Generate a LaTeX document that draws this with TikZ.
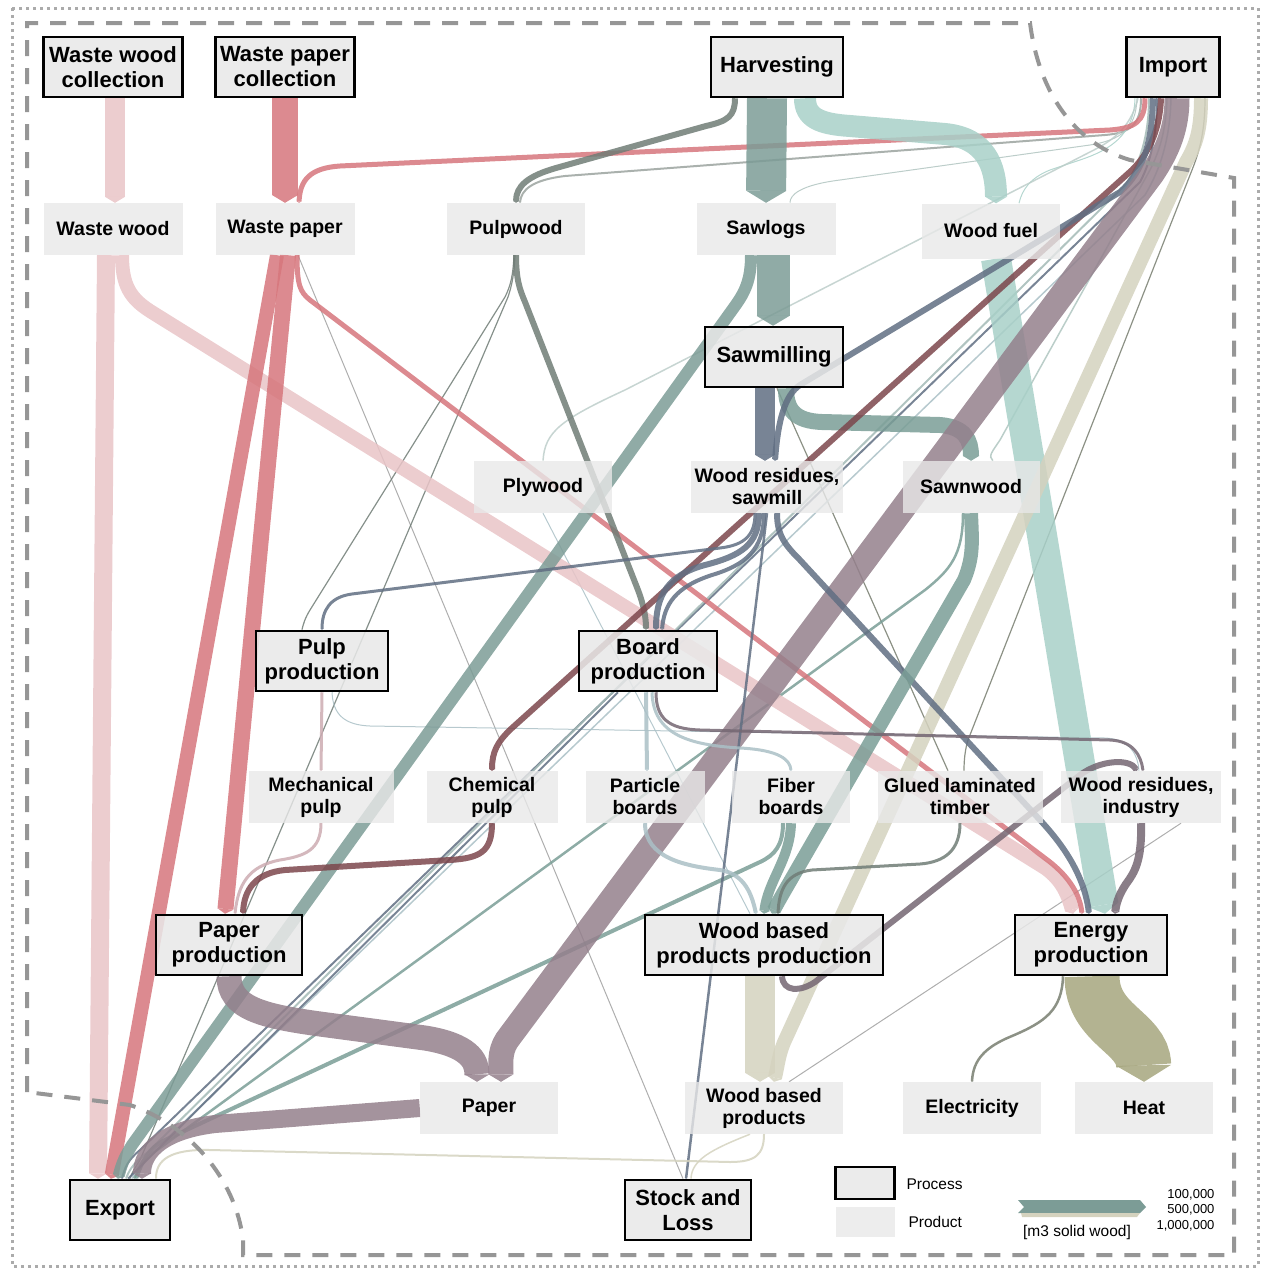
\documentclass[tikz,border=0pt]{standalone}
\usepackage{fontspec}
\setmainfont{Liberation Sans}
\usepackage{tikz}
\usetikzlibrary{backgrounds}
\usetikzlibrary{arrows.meta}
\definecolor[named]{WasteWood}{RGB}{233,196,199}
\definecolor[named]{WastePaper}{RGB}{214,118,124}
\definecolor[named]{Roundwood}{RGB}{112,124,118}
\definecolor[named]{Sawlog}{RGB}{124,156,150}
\definecolor[named]{WoodFuel}{RGB}{168,208,200}
\definecolor[named]{Residue}{RGB}{96,110,130}
\definecolor[named]{SawnTeal}{RGB}{122,158,150}
\definecolor[named]{PaperMauve}{RGB}{148,128,140}
\definecolor[named]{ChemPulp}{RGB}{124,70,76}
\definecolor[named]{MechPulp}{RGB}{204,172,178}
\definecolor[named]{Panel}{RGB}{170,192,198}
\definecolor[named]{IndResidue}{RGB}{116,102,114}
\definecolor[named]{WBProduct}{RGB}{212,210,190}
\definecolor[named]{HeatOlive}{RGB}{166,166,126}
\definecolor[named]{Power}{RGB}{120,126,112}
\definecolor[named]{ThinGray}{RGB}{160,160,160}
\definecolor[named]{BoxGray}{RGB}{232,232,232}
\definecolor[named]{FrameGray}{RGB}{150,150,150}
\newcommand{\procfont}{\fontsize{22}{25}\selectfont\bfseries}
\newcommand{\prodfont}{\fontsize{19.5}{22}\selectfont\bfseries}
\newcommand{\keyfont}{\fontsize{15.5}{18}\selectfont}
\newcommand{\numfont}{\fontsize{13}{15.5}\selectfont}
\tikzset{
  process/.style={draw=black, line width=2.5pt, fill=BoxGray, fill opacity=0.85,
    text opacity=1, minimum width=#1, minimum height=60pt, inner sep=0pt,
    align=center, font=\procfont},
  process/.default=138pt,
  product/.style={fill=BoxGray, fill opacity=0.8, text opacity=1,
    minimum width=#1, minimum height=52pt, inner sep=0pt,
    align=center, font=\prodfont},
  product/.default=138pt,
  flow/.style={line width=#1, opacity=0.85, line cap=butt,
    -{Triangle[width=0pt 1, length=0pt 0.3, line width=0pt]}},
  flow/.default=2pt,
}

\begin{document}
\begin{tikzpicture}[x=1pt,y=-1pt]
  \useasboundingbox (0,0) rectangle (1261,1269);
  % processes
  \node[process=139pt] (wwcoll) at (113,67) {Waste wood\\collection};
  \node[process=139pt] (wpcoll) at (285,67) {Waste paper\\collection};
  \node[process=132pt] (harvest) at (777,67) {Harvesting};
  \node[process=93pt] (import) at (1173,67) {Import};
  \node[process=138pt] (sawmill) at (774,357) {Sawmilling};
  \node[process=132pt] (pulpprod) at (322,661) {Pulp\\production};
  \node[process=138pt] (boardprod) at (648,661) {Board\\production};
  \node[process=146pt] (paperprod) at (229,945) {Paper\\production};
  \node[process=238pt] (wbpprod) at (764,945) {Wood based\\products production};
  \node[process=152pt] (energy) at (1091,945) {Energy\\production};
  \node[process=100pt] (export) at (120,1210) {Export};
  \node[process=126pt] (stock) at (688,1210) {Stock and\\Loss};
  % products
  \node[product=139pt] (wwood) at (113,229) {Waste wood};
  \node[product=139pt] (wpaper) at (285,229) {Waste paper};
  \node[product] (pulpwood) at (516,229) {Pulpwood};
  \node[product=139pt] (sawlogs) at (766,229) {Sawlogs};
  \node[product, minimum height=55pt] (woodfuel) at (991,231) {Wood fuel};
  \node[product] (plywood) at (543,487) {Plywood};
  \node[product=152pt] (ressaw) at (767,487) {Wood residues,\\sawmill};
  \node[product=137pt] (sawnwood) at (971,487) {Sawnwood};
  \node[product=145pt] (mechpulp) at (321,797) {Mechanical\\pulp};
  \node[product=131pt] (chempulp) at (492,797) {Chemical\\pulp};
  \node[product=119pt] (particle) at (645,797) {Particle\\boards};
  \node[product=118pt] (fiber) at (791,797) {Fiber\\boards};
  \node[product=165pt] (glulam) at (960,797) {Glued laminated\\timber};
  \node[product=160pt] (resind) at (1141,797) {Wood residues,\\industry};
  \node[product] (paper) at (489,1108) {Paper};
  \node[product=158pt] (wbprod) at (764,1108) {Wood based\\products};
  \node[product] (electricity) at (972,1108) {Electricity};
  \node[product] (heat) at (1144,1108) {Heat};

  \begin{scope}[on background layer]
    % thin flows
    \draw[flow=1pt, ThinGray] ([xshift=13pt]wpaper.south) -- ([xshift=-5pt]stock.north);
    \draw[flow=2pt, Roundwood!70] ([xshift=-32pt]import.south) .. controls (1141,125) and (1130,133) .. (1105,135)
      -- (565,176) .. controls (532,180) and (521,190) .. ([xshift=4pt]pulpwood.north);
    \draw[flow=1pt, Sawlog!60] ([xshift=-36pt]import.south) .. controls (1136,130) and (1120,140) .. (1090,145)
      -- (840,180) .. controls (800,185) and (790,195) .. ([xshift=24pt]sawlogs.north);
    \draw[flow=1pt, WoodFuel] ([xshift=-38pt]import.south) .. controls (1134,135) and (1110,150) .. (1080,160)
      -- (1050,170) .. controls (1030,178) and (1022,190) .. ([xshift=28pt]woodfuel.north);
    \draw[flow=1.5pt, Sawlog!50] ([xshift=-35pt]import.south) .. controls (1130,130) and (1110,142) .. (1090,152)
      -- (625,390) .. controls (560,420) and (545,432) .. (plywood.north);
    \draw[flow=1.5pt, SawnTeal!60] ([xshift=-6pt]import.south) .. controls (1166,130) and (1160,150) .. (1150,170)
      -- (1000,440) .. controls (992,452) and (988,456) .. ([xshift=22pt]sawnwood.north);
    \draw[flow=1.2pt, Power] ([xshift=32pt]import.south) .. controls (1205,130) and (1200,150) .. (1192,170)
      -- (968,740) .. controls (965,750) and (964,760) .. ([xshift=4pt]glulam.north);
    \draw[flow=1.2pt, Power] ([xshift=3pt]sawmill.south) -- ([xshift=-12pt]glulam.north);
    \draw[flow=1.2pt, Roundwood] ([xshift=-2pt]pulpwood.south) .. controls (513,275) and (511,285) .. (505,297)
      -- (310,610) .. controls (305,618) and (303,625) .. ([xshift=-20pt]pulpprod.north);
    \draw[flow=1.2pt, Roundwood] ([xshift=-1pt]pulpwood.south) .. controls (514,275) and (512,285) .. (508,297)
      -- (140,1160) .. controls (135,1168) and (132,1172) .. ([xshift=10pt]export.north);
    \draw[flow=1pt, Panel] ([xshift=10pt]pulpprod.south) .. controls (333,715) and (345,725) .. (370,726)
      -- (1105,738) .. controls (1130,739) and (1138,755) .. ([xshift=-2pt]resind.north);
    \draw[flow=1pt, Panel] (plywood.south) -- ([xshift=-14pt]wbpprod.north);
    \draw[flow=1pt, ThinGray] ([xshift=40pt]resind.south) -- ([xshift=25pt]wbprod.north);
    % fan into export
    \draw[flow=2pt, Residue] ([xshift=-16pt]import.south) .. controls (1157,130) and (1152,160) .. (1140,182)
      -- (140,1150) .. controls (128,1160) and (125,1167) .. ([xshift=2pt]export.north);
    \draw[flow=2pt, Sawlog!70] ([xshift=-24pt]import.south) .. controls (1149,135) and (1140,165) .. (1125,185)
      -- (148,1152) .. controls (135,1162) and (130,1168) .. ([xshift=6pt]export.north);
    \draw[flow=1.5pt, Panel] ([xshift=-2pt]import.south) .. controls (1170,140) and (1160,170) .. (1145,195)
      -- (155,1150) .. controls (140,1160) and (136,1168) .. ([xshift=12pt]export.north);
    \draw[flow=2.5pt, SawnTeal] ([xshift=-8pt]sawnwood.south) .. controls (963,555) and (950,570) .. (925,590)
      -- (160,1148) .. controls (145,1158) and (140,1166) .. ([xshift=14pt]export.north);
    \draw[flow=4pt, SawnTeal] ([xshift=-8pt]fiber.south) .. controls (783,845) and (775,855) .. (760,862)
      -- (165,1140) .. controls (148,1148) and (142,1162) .. ([xshift=16pt]export.north);
    \draw[flow=2pt, Residue] ([xshift=-30pt]boardprod.south) -- ([xshift=8pt]export.north);

    % waste wood and waste paper
    \draw[flow=20pt, WasteWood] ([xshift=2pt]wwcoll.south) -- ([xshift=2pt]wwood.north);
    \draw[flow=18pt, WasteWood] ([xshift=-7pt]wwood.south) -- ([xshift=-22pt]export.north);
    \draw[flow=14pt, WasteWood] ([xshift=9pt]wwood.south) .. controls (122,285) and (130,298) .. (150,311)
      -- (1045,868) .. controls (1062,880) and (1068,895) .. ([xshift=-18pt]energy.north);
    \draw[flow=26pt, WastePaper] (wpcoll.south) -- (wpaper.north);
    \draw[flow=14pt, WastePaper] ([xshift=-8pt]wpaper.south) -- ([xshift=-9pt]export.north);
    \draw[flow=16pt, WastePaper] ([xshift=3pt]wpaper.south) -- ([xshift=-4pt]paperprod.north);
    \draw[flow=5pt, WastePaper] ([xshift=12pt]wpaper.south) .. controls (297,285) and (300,292) .. (310,300)
      -- (1050,862) .. controls (1070,878) and (1080,895) .. ([xshift=-9pt]energy.north);
    \draw[flow=5pt, WastePaper] ([xshift=-28pt]import.south) .. controls (1145,122) and (1135,128) .. (1110,130)
      -- (340,166) .. controls (310,168) and (300,180) .. ([xshift=14pt]wpaper.north);

    % harvesting
    \draw[flow=40pt, Sawlog] ([xshift=-10pt]harvest.south) -- (sawlogs.north);
    \draw[flow=6pt, Roundwood] ([xshift=-42pt]harvest.south) .. controls (735,116) and (728,121) .. (706,126)
      -- (556,168) .. controls (528,176) and (516,186) .. (pulpwood.north);
    \draw[flow=22pt, WoodFuel] ([xshift=28pt]harvest.south) .. controls (805,118) and (820,124) .. (850,126)
      -- (945,134) .. controls (985,138) and (996,165) .. ([xshift=5pt]woodfuel.north);

    % sawlogs, pulpwood, wood fuel
    \draw[flow=33pt, Sawlog] ([xshift=7pt]sawlogs.south) -- ([xshift=-1pt]sawmill.north);
    \draw[flow=12pt, Sawlog] ([xshift=-15pt]sawlogs.south) .. controls (751,280) and (745,292) .. (735,306)
      -- (132,1145) .. controls (126,1155) and (122,1162) .. ([xshift=-2pt]export.north);
    \draw[flow=6pt, Roundwood] (pulpwood.south) .. controls (516,280) and (520,290) .. (525,302)
      -- (638,590) .. controls (644,606) and (646,618) .. ([xshift=-2pt]boardprod.north);
    \draw[flow=30pt, WoodFuel] ([xshift=5pt]woodfuel.south) -- ([xshift=14pt]energy.north);

    % sawmilling
    \draw[flow=20pt, Residue] ([xshift=-9pt]sawmill.south) -- ([xshift=-2pt]ressaw.north);
    \draw[flow=16pt, SawnTeal] ([xshift=12pt]sawmill.south) .. controls (786,410) and (795,421) .. (822,422)
      -- (940,425) .. controls (965,427) and (971,440) .. (sawnwood.north);

    % import
    \draw[flow=6pt, ChemPulp] ([xshift=-12pt]import.south) .. controls (1160,125) and (1152,150) .. (1132,170)
      -- (512,728) .. controls (497,742) and (492,752) .. (chempulp.north);
    \draw[flow=6pt, Residue] ([xshift=-20pt]import.south) .. controls (1152,140) and (1145,170) .. (1120,192)
      -- (800,385) .. controls (785,395) and (778,420) .. ([xshift=8pt]ressaw.north);
    \draw[flow=14pt, WBProduct] ([xshift=28pt]import.south) .. controls (1201,130) and (1196,145) .. (1186,162)
      -- (786,1038) .. controls (779,1052) and (778,1065) .. ([xshift=10pt]wbprod.north);
    \draw[flow=25pt, PaperMauve] ([xshift=4pt]import.south) .. controls (1177,128) and (1168,150) .. (1152,174)
      -- (507,1040) .. controls (499,1052) and (501,1065) .. ([xshift=12pt]paper.north);

    % wood residues, sawmill
    \draw[flow=6pt, Residue] ([xshift=-8pt]ressaw.south) .. controls (759,545) and (740,556) .. (705,565)
      .. controls (668,575) and (656,595) .. ([xshift=8pt]boardprod.north);
    \draw[flow=4pt, Residue] ([xshift=-3pt]ressaw.south) .. controls (764,550) and (745,565) .. (712,575)
      .. controls (675,587) and (664,605) .. ([xshift=14pt]boardprod.north);
    \draw[flow=3pt, Residue] ([xshift=-12pt]ressaw.south) .. controls (755,535) and (745,545) .. (720,548)
      -- (352,594) .. controls (330,597) and (322,610) .. (pulpprod.north);
    \draw[flow=6pt, Residue] ([xshift=10pt]ressaw.south) .. controls (777,535) and (785,545) .. (800,560)
      -- (1040,820) .. controls (1068,850) and (1085,880) .. ([xshift=-2pt]energy.north);
    \draw[flow=2.5pt, Residue] (ressaw.south) -- ([xshift=-2pt]stock.north);

    % sawnwood, boards, pulp
    \draw[flow=14pt, SawnTeal] (sawnwood.south) .. controls (972,540) and (974,556) .. (964,580)
      -- (792,878) .. controls (784,892) and (778,902) .. ([xshift=8pt]wbpprod.north);
    \draw[flow=4pt, Panel] ([xshift=-2pt]boardprod.south) -- ([xshift=2pt]particle.north);
    \draw[flow=3pt, Panel] ([xshift=4pt]boardprod.south) .. controls (653,735) and (690,745) .. (740,748)
      .. controls (780,750) and (790,760) .. (fiber.north);
    \draw[flow=3pt, IndResidue] ([xshift=8pt]boardprod.south) .. controls (656,718) and (668,729) .. (700,730)
      -- (1110,740) .. controls (1133,741) and (1141,755) .. ([xshift=2pt]resind.north);
    \draw[flow=3pt, MechPulp] (pulpprod.south) -- (mechpulp.north);
    \draw[flow=3pt, MechPulp] (mechpulp.south) .. controls (321,850) and (305,856) .. (280,860)
      .. controls (248,866) and (238,885) .. ([xshift=6pt]paperprod.north);
    \draw[flow=6pt, ChemPulp] (chempulp.south) .. controls (492,852) and (480,858) .. (450,860)
      -- (285,870) .. controls (255,873) and (244,890) .. ([xshift=14pt]paperprod.north);
    \draw[flow=4pt, Panel] (particle.south) .. controls (645,858) and (685,866) .. (720,870)
      .. controls (745,874) and (752,895) .. ([xshift=-8pt]wbpprod.north);
    \draw[flow=10pt, SawnTeal] (fiber.south) .. controls (790,860) and (768,880) .. (wbpprod.north);
    \draw[flow=3pt, Roundwood] (glulam.south) .. controls (960,850) and (945,862) .. (920,864)
      -- (812,870) .. controls (786,873) and (779,890) .. ([xshift=14pt]wbpprod.north);

    % paper
    \draw[flow=25pt, PaperMauve] (paperprod.south) .. controls (229,1008) and (262,1016) .. (320,1024)
      -- (425,1038) .. controls (468,1045) and (477,1060) .. ([xshift=-12pt]paper.north);
    \draw[flow=18pt, PaperMauve] (paper.west) -- (215,1124) .. controls (165,1130) and (142,1150) .. ([xshift=22pt]export.north);

    % wood based products
    \draw[flow=30pt, WBProduct] ([xshift=-4pt]wbpprod.south) -- ([xshift=-4pt]wbprod.north);
    \draw[flow=6pt, IndResidue] ([xshift=18pt]wbpprod.south) .. controls (783,992) and (800,992) .. (815,982)
      -- (1080,775) .. controls (1100,760) and (1130,758) .. ([xshift=-4pt]resind.north);
    \draw[flow=8pt, IndResidue] (resind.south) .. controls (1142,860) and (1135,872) .. (1126,884)
      .. controls (1118,896) and (1116,905) .. ([xshift=24pt]energy.north);
    \draw[flow=2pt, WBProduct] (wbprod.south) .. controls (764,1155) and (755,1162) .. (730,1162)
      -- (210,1150) .. controls (170,1149) and (156,1160) .. ([xshift=36pt]export.north);
    \draw[flow=1.5pt, WBProduct] ([xshift=-14pt]wbprod.south) .. controls (710,1150) and (692,1160) .. ([xshift=3pt]stock.north);

    % energy
    \draw[flow=2.5pt, Power] ([xshift=-28pt]energy.south) .. controls (1062,1010) and (1045,1022) .. (1012,1036)
      .. controls (985,1047) and (973,1060) .. (electricity.north);
    \draw[flow=55pt, HeatOlive] ([xshift=1pt]energy.south) .. controls (1092,1025) and (1143,1032) .. (heat.north);
  \end{scope}

  % system boundary
  \draw[FrameGray!80, line width=3pt, dash pattern=on 3pt off 4pt] (12,8) rectangle (1258,1266);
  \draw[FrameGray, line width=4pt, dash pattern=on 16pt off 12pt]
    (27,1092) -- (27,23) -- (1030,23) .. controls (1040,100) and (1080,145) .. (1130,160)
    -- (1234,178) -- (1234,1255) -- (243,1255) -- (243,1240)
    .. controls (236,1180) and (190,1125) .. (130,1105) -- cycle;

  % legend
  \node[process, minimum width=59pt, minimum height=32pt] (keyproc) at (865,1183) {};
  \node[product, minimum width=59pt, minimum height=30pt] (keyprod) at (865,1222) {};
  \node[anchor=west, font=\keyfont] (keyproctext) at (903,1184) {Process};
  \node[anchor=west, font=\keyfont] (keyprodtext) at (905,1222) {Product};
  \fill[Sawlog] (1018,1200) -- (1140,1200) -- (1146,1207) -- (1140,1213) -- (1018,1213) -- (1024,1207) -- cycle;
  \fill[WBProduct] (1021,1213) -- (1140,1213) -- (1137,1217) -- (1022,1217) -- cycle;
  \node[font=\keyfont] (keyunit) at (1077,1232) {[m3 solid wood]};
  \node[anchor=east, align=right, font=\numfont] (keyscale) at (1218,1210) {100,000\\500,000\\1,000,000};
\end{tikzpicture}
\end{document}
